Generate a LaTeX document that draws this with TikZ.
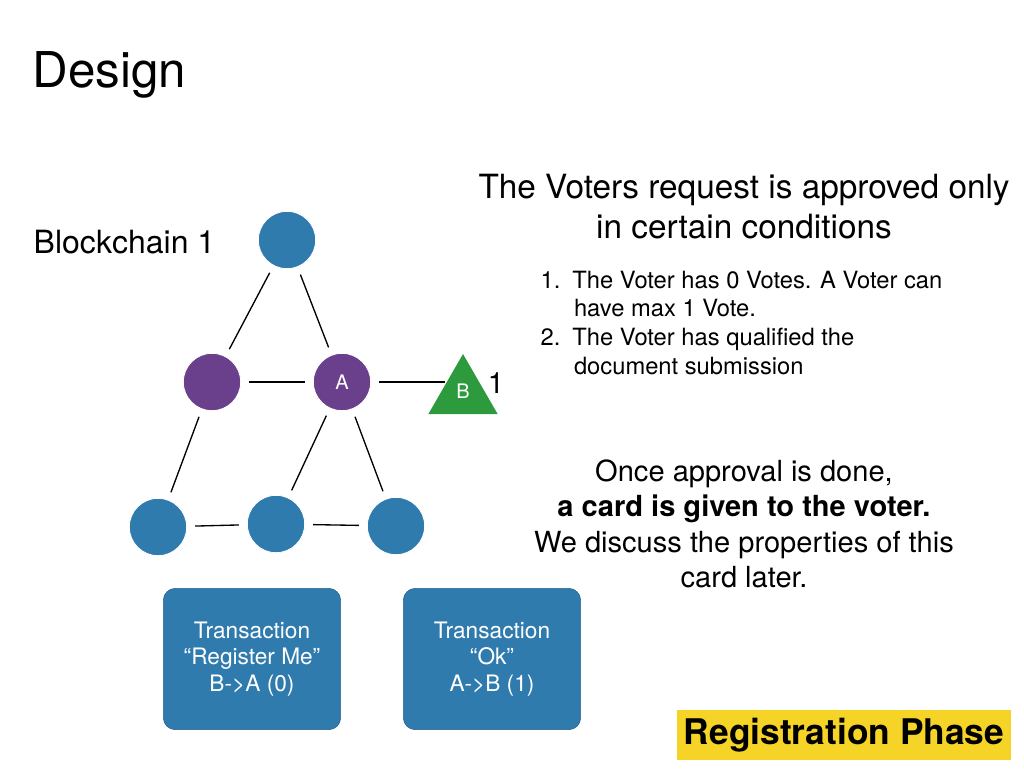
\documentclass[tikz,border=0pt]{standalone}
\usepackage{fontspec}
\setmainfont{TeX Gyre Heros}
\usetikzlibrary{shapes.geometric}
\definecolor{cb}{HTML}{2F7BAE}
\definecolor{cp}{HTML}{6A3F8C}
\definecolor{cg}{HTML}{2E9A3E}
\definecolor{cy}{HTML}{F5D327}
\begin{document}
\begin{tikzpicture}[x=0.75pt,y=-0.75pt,
 nd/.style={circle,minimum size=43pt,inner sep=0pt,draw=white,line width=0.6pt},
 ed/.style={line width=1pt,shorten >=6pt,shorten <=6pt},
 box/.style={fill=cb,draw=cb!80!black,rounded corners=9pt,minimum width=133pt,minimum height=106pt,text=white,align=center,font=\fontsize{17}{20}\selectfont}]
\useasboundingbox (0,0) rectangle (1024,768);
\node[anchor=west,font=\fontsize{37}{42}\selectfont] (title) at (28,75) {Design};
\node[anchor=west,font=\fontsize{24}{28}\selectfont] (bc) at (29,242) {Blockchain 1};
\node[nd,fill=cb] (t) at (287,240) {};
\node[nd,fill=cp] (p) at (212,382) {};
\node[nd,fill=cp,text=white,font=\fontsize{15}{17}\selectfont] (a) at (342,382) {A};
\node[nd,fill=cb] (b1) at (158,527) {};
\node[nd,fill=cb] (b2) at (276,524) {};
\node[nd,fill=cb] (b3) at (396,526) {};
\node[regular polygon,regular polygon sides=3,fill=cg,minimum size=60pt,inner sep=0pt] (tri) at (463,394) {};
\node[text=white,font=\fontsize{15}{17}\selectfont] (bl) at (463,391) {B};
\node[font=\fontsize{22}{26}\selectfont] (one) at (496,383) {1};
\draw[ed] (t) -- (p);
\draw[ed] (t) -- (a);
\draw[ed] (p) -- (a);
\draw[ed] (p) -- (b1);
\draw[ed] (a) -- (b2);
\draw[ed] (a) -- (b3);
\draw[ed] (b1) -- (b2);
\draw[ed] (b2) -- (b3);
\draw[line width=1pt,shorten <=6pt] (a) -- (445,382);
\node[box] (tx1) at (252,659) {Transaction\\“Register Me”\\B->A (0)};
\node[box] (tx2) at (492,659) {Transaction\\“Ok”\\A->B (1)};
\node[align=center,font=\fontsize{25}{30}\selectfont] (h) at (744,207) {The Voters request is approved only\\in certain conditions};
\node[anchor=north west,align=left,font=\fontsize{17.8}{21.5}\selectfont] (l) at (536,266) {1.\hspace{9pt}The Voter has 0 Votes. A Voter can\\\hspace{25pt}have max 1 Vote.\\2.\hspace{9pt}The Voter has qualified the\\\hspace{25pt}document submission};
\node[align=center,font=\fontsize{21.8}{26.5}\selectfont] (o) at (744,524) {Once approval is done,\\\textbf{a card is given to the voter.}\\We discuss the properties of this\\card later.};
\node[fill=cy,minimum width=251pt,minimum height=37pt,font=\bfseries\fontsize{26.5}{30}\selectfont] (rp) at (844,735) {Registration Phase};
\end{tikzpicture}
\end{document}
